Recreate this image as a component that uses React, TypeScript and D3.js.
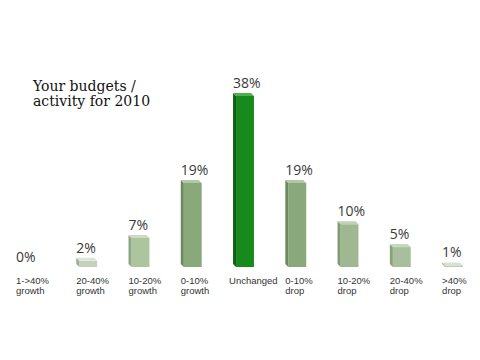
import React from "react";
import * as d3 from "d3";

const categories = ["1->40%|growth", "20-40%|growth", "10-20%|growth", "0-10%|growth", "Unchanged", "0-10%|drop", "10-20%|drop", "20-40%|drop", ">40%|drop"];
const values = [0, 2, 7, 19, 38, 19, 10, 5, 1];
const frontColors = ["#c4d2bc", "#c4d2bc", "#adc59f", "#8aa97b", "#168a1c", "#8aa97b", "#9fb891", "#a9bf9c", "#c0ccb8"];
const sideColors = ["#9fae97", "#9fae97", "#8ca581", "#6a8a5c", "#0b6310", "#6a8a5c", "#7f9972", "#89a07c", "#9eab97"];
const topColors = ["#dbe4d5", "#dbe4d5", "#cddbc4", "#b3c8a7", "#4fae50", "#b3c8a7", "#c0d2b5", "#c8d7bf", "#d8e0d3"];
const titleLines = ["Your budgets /", "activity for 2010"];

const W = 480, H = 360;

export default function App() {
  const x = d3.scaleBand<string>().domain(categories).range([24, 463]).paddingInner(0.6).paddingOuter(0);
  const y = d3.scaleLinear().domain([0, 38]).range([267, 93]);
  const d = 3;
  return (
    <svg width={W} height={H} style={{ position: "absolute", left: 0, top: 0, background: "#fff" }}>
      <rect width={W} height={H} fill="#fff" />
      {titleLines.map((t, i) => (
        <text key={i} x={33} y={91 + i * 15} fontFamily="'DejaVu Serif', serif" fontSize={14} fill="#111">{t}</text>
      ))}
      {categories.map((c, i) => {
        const x0 = x(c)!;
        const bw = x.bandwidth();
        const x1 = x0 + bw;
        const v = values[i];
        const yt = y(v);
        const base = y(0);
        const xf = x0 + d;
        const lines = c.split("|");
        const lx = v === 0 ? x0 - 8 : x0;
        return (
          <g key={c}>
            {v > 0 && (
              <g>
                <rect x={xf} y={yt + d} width={x1 - xf} height={base - yt - d} fill={frontColors[i]} />
                <polygon points={`${xf},${yt + d} ${x0},${yt} ${x0},${base - d} ${xf},${base}`} fill={sideColors[i]} />
                <polygon points={`${xf},${yt + d} ${x1},${yt + d} ${x1 - d},${yt} ${x0},${yt}`} fill={topColors[i]} />
              </g>
            )}
            <text x={lx} y={yt - 5} fontFamily="'Open Sans', sans-serif" fontSize={14} fill="#3a3a3a">{v}%</text>
            {lines.map((l, j) => (
              <text key={j} x={lx + (lines.length === 1 ? -4 : 0)} y={284 + j * 10} fontFamily="'Liberation Sans', Arial, sans-serif" fontSize={9.5} fill="#333">{l}</text>
            ))}
          </g>
        );
      })}
    </svg>
  );
}
